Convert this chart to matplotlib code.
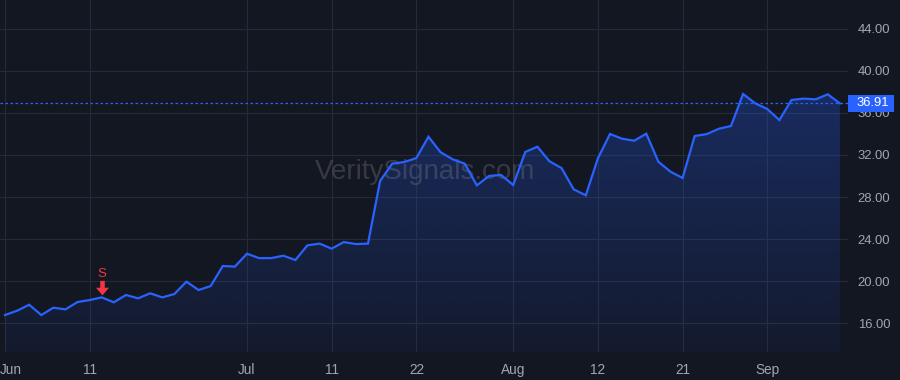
import numpy as np
import matplotlib
matplotlib.use("Agg")
import matplotlib.pyplot as plt
from matplotlib.path import Path
from matplotlib.patches import Rectangle
import matplotlib.transforms as mtransforms

plt.rcParams['font.family'] = ['Liberation Sans', 'DejaVu Sans']

# daily closes, Jun 2 - Sep 10 (trading days)
close = [16.76, 17.17, 17.74, 16.76, 17.46, 17.30, 18.00, 18.19, 18.44, 17.97,
         18.67, 18.35, 18.83, 18.44, 18.76, 19.94, 19.14, 19.52, 21.43, 21.37,
         22.60, 22.18, 22.18, 22.41, 22.00, 23.40, 23.56, 23.08, 23.71, 23.52,
         23.56, 29.52, 31.17, 31.33, 31.71, 33.74, 32.26, 31.59, 31.17, 29.11,
         30.00, 30.10, 29.14, 32.29, 32.79, 31.40, 30.75, 28.73, 28.16, 31.68,
         34.00, 33.55, 33.36, 34.03, 31.36, 30.41, 29.81, 33.81, 33.99, 34.50,
         34.76, 37.81, 36.92, 36.38, 35.33, 37.24, 37.37, 37.30, 37.78, 36.91]
tick_idx = [0, 7, 20, 27, 34, 42, 49, 56, 63]
tick_labels = ["Jun", "11", "Jul", "11", "22", "Aug", "12", "21", "Sep"]
y_ticks = [16, 20, 24, 28, 32, 36, 40, 44]
signal_idx = 8
signal_text = "S"
last_price = 36.91

bg = '#131722'
blue = '#2962FF'
grid = '#262a36'
txt = '#a3a6af'
red = '#F23645'

x = np.arange(len(close))
y = np.array(close)

fig = plt.figure(figsize=(9, 3.8), dpi=100, facecolor=bg)
ax = fig.add_axes([0, 28/380, 848/900, 352/380], facecolor=bg)
ymin, ymax = 13.24, 46.76
ax.set_xlim(-0.41, 69.67)
ax.set_ylim(ymin, ymax)

# gradient area under the line
poly = ax.fill_between(x, y, ymin, color='none', lw=0)
grad = np.zeros((100, 1, 4))
grad[:, :, :3] = matplotlib.colors.to_rgb(blue)
grad[:, 0, 3] = np.linspace(0.05, 0.28, 100)
im = ax.imshow(grad, aspect='auto', origin='lower',
               extent=[x[0], x[-1], ymin, y.max()], zorder=1)
im.set_clip_path(poly.get_paths()[0], transform=ax.transData)

ax.plot(x, y, color=blue, lw=1.6, zorder=3, solid_joinstyle='miter')

# last price line + label
ax.axhline(last_price, color=blue, lw=0.9, ls=(0, (2, 2)), zorder=2)
trans = mtransforms.blended_transform_factory(ax.transAxes, ax.transData)
ax.add_patch(Rectangle((1.0, last_price - 0.8), 46/848, 1.6, transform=trans,
                       facecolor=blue, edgecolor='none', clip_on=False, zorder=6))
ax.text(1.0 + 8/848, last_price, f"{last_price:.2f}", transform=trans,
        color='white', fontsize=9.4, va='center', ha='left', zorder=7, clip_on=False)

# sell signal
arrow = Path([(-0.3, 1), (0.3, 1), (0.3, 0.1), (0.85, 0.1), (0, -0.9),
              (-0.85, 0.1), (-0.3, 0.1), (-0.3, 1)],
             [Path.MOVETO] + [Path.LINETO] * 6 + [Path.CLOSEPOLY])
off = mtransforms.ScaledTranslation(0, 9/100, fig.dpi_scale_trans)
ax.plot([signal_idx], [close[signal_idx]], marker=arrow, ms=11, color=red,
        mec='none', transform=ax.transData + off, zorder=5)
ax.annotate(signal_text, (signal_idx, close[signal_idx]), xytext=(0, 16.5),
            textcoords='offset points', ha='center', va='center',
            color=red, fontsize=9.5, zorder=5)

# watermark
ax.text(0.501, 0.511, "VeritySignals.com", transform=ax.transAxes,
        ha='center', va='center', fontsize=20, color='#787b86', alpha=0.35, zorder=2)

# axes styling
ax.set_xticks(tick_idx)
ax.set_xticklabels(tick_labels)
ax.set_yticks(y_ticks)
ax.set_yticklabels([f"{v:.2f}" for v in y_ticks])
ax.yaxis.tick_right()
ax.tick_params(axis='both', length=0, colors=txt)
ax.tick_params(axis='x', pad=8, labelsize=9.8)
ax.tick_params(axis='y', pad=7, labelsize=9.4)
first = ax.get_xticklabels()[0]
first.set_ha('left')
first.set_transform(first.get_transform() +
                    mtransforms.ScaledTranslation(-5/100, 0, fig.dpi_scale_trans))
ax.grid(True, color=grid, lw=0.8)
ax.set_axisbelow(True)
for s in ax.spines.values():
    s.set_visible(False)

fig.savefig('out.png', dpi=100, facecolor=bg)
